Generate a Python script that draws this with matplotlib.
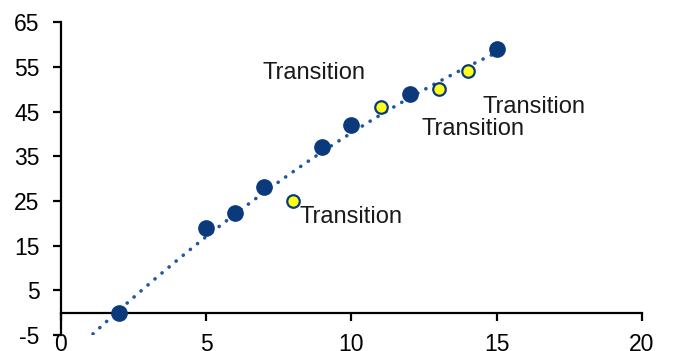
import numpy as np
import matplotlib
matplotlib.use("Agg")
import matplotlib.pyplot as plt

plt.rcParams['font.family'] = ['Liberation Sans', 'DejaVu Sans']
plt.rcParams['axes.unicode_minus'] = False

# data
blue_x = [2, 5, 6, 7, 9, 10, 12, 15]
blue_y = [0, 19, 22.4, 28.2, 37, 42, 49, 59]
yellow_x = [8, 11, 13, 14]
yellow_y = [25, 46, 50, 54]
label_text = "Transition"
label_x = [6.95, 8.2, 12.4, 14.5]
label_y = [53.7, 21.3, 41.0, 46.1]
x_ticks = [0, 5, 10, 15, 20]
y_ticks = [-5, 5, 15, 25, 35, 45, 55, 65]

fig = plt.figure(figsize=(6.74, 3.51), dpi=100)
ax = fig.add_axes([0.0905, 0.0456, 0.862, 0.8914])

all_x = np.array(blue_x + yellow_x, dtype=float)
all_y = np.array(blue_y + yellow_y, dtype=float)
coef = np.polyfit(all_x, all_y, 2)
tx = np.linspace(1.1, 15, 200)
ax.plot(tx, np.polyval(coef, tx), color='#1F5A9E', lw=2.6,
        linestyle=(0, (0.05, 2.5)), dash_capstyle='round', zorder=2)

ax.plot(blue_x, blue_y, 'o', ms=11, color='#0A3A7C', mec='#0A3A7C', zorder=3)
ax.plot(yellow_x, yellow_y, 'o', ms=9, mfc='#FFFF1A', mec='#0A3A7C', mew=1.6, zorder=3)

for lx, ly in zip(label_x, label_y):
    ax.text(lx, ly, label_text, fontsize=17, ha='left', va='center', color='#1a1a1a')

ax.set_xlim(0, 20)
ax.set_ylim(-5, 65)
ax.set_xticks(x_ticks)
ax.set_yticks(y_ticks)
ax.spines['top'].set_visible(False)
ax.spines['right'].set_visible(False)
ax.spines['bottom'].set_position(('data', 0))
ax.spines['bottom'].set_linewidth(1.6)
ax.spines['left'].set_linewidth(1.6)
ax.tick_params(axis='x', direction='out', length=6, width=1.6, pad=9, labelsize=16.5)
ax.tick_params(axis='y', direction='out', length=6, width=1.6, pad=9.5, labelsize=16.5)

fig.savefig('out.png', dpi=100)
